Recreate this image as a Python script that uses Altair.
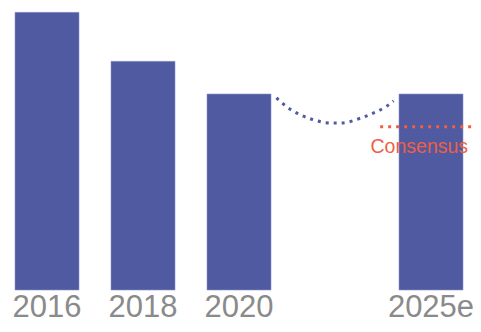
import altair as alt
import pandas as pd

# data
years = ["2016", "2018", "2020", "2025e"]
slots = [0, 1, 2, 4]
values = [8.5, 7.0, 6.0, 6.0]

curve_x = [2.39, 2.45, 2.51, 2.58, 2.66, 2.74, 2.82, 2.91, 2.99, 3.07, 3.15, 3.24, 3.31, 3.38, 3.45, 3.53, 3.61]
curve_y = [5.88, 5.73, 5.57, 5.45, 5.33, 5.24, 5.17, 5.11, 5.11, 5.11, 5.14, 5.24, 5.30, 5.39, 5.48, 5.60, 5.79]

consensus_value = 5.0
consensus_span = [3.47, 4.6]
consensus_label = "Consensus"

BLUE = "#4f5aa0"
RED = "#ee5f45"
GRAY = "#8a8a8a"

bars = pd.DataFrame({"year": years, "slot": slots, "value": values})
bars["x0"] = bars["slot"] - 1 / 3
bars["x1"] = bars["slot"] + 1 / 3
curve = pd.DataFrame({"x": curve_x, "y": curve_y})
cons = pd.DataFrame({"x": [consensus_span[0]], "x2": [consensus_span[1]], "y": [consensus_value]})
cons_text = pd.DataFrame({"x": [3.37], "y": [consensus_value], "t": [consensus_label]})

xs = alt.Scale(domain=[-0.40625, 4.4375], nice=False, zero=False)
ys = alt.Scale(domain=[-1.0408, 8.633], nice=False, zero=False)

bar_layer = alt.Chart(bars).mark_bar(color=BLUE, stroke="#8f96c8", strokeWidth=0.6).encode(
    x=alt.X("x0:Q", scale=xs, axis=None),
    x2="x1:Q",
    y=alt.Y("value:Q", scale=ys, axis=None),
    y2=alt.datum(0),
)

labels = alt.Chart(bars).mark_text(
    fontSize=31, font="Liberation Sans", color=GRAY, baseline="alphabetic", align="center"
).encode(
    x=alt.X("slot:Q", scale=xs, axis=None),
    y=alt.value(309),
    text="year:N",
)

curve_layer = alt.Chart(curve).mark_line(
    color=BLUE, strokeWidth=3, strokeDash=[3, 5], interpolate="basis"
).encode(
    x=alt.X("x:Q", scale=xs, axis=None),
    y=alt.Y("y:Q", scale=ys, axis=None),
)

cons_layer = alt.Chart(cons).mark_rule(
    color=RED, strokeWidth=3, strokeDash=[3, 5], clip=False
).encode(
    x=alt.X("x:Q", scale=xs, axis=None),
    x2="x2:Q",
    y=alt.Y("y:Q", scale=ys, axis=None),
)

cons_txt = alt.Chart(cons_text).mark_text(
    fontSize=19.5, font="Liberation Sans", color=RED, align="left", baseline="alphabetic", dy=26
).encode(
    x=alt.X("x:Q", scale=xs, axis=None),
    y=alt.Y("y:Q", scale=ys, axis=None),
    text="t:N",
)

chart = alt.layer(bar_layer, curve_layer, cons_layer, cons_txt, labels).properties(
    width=465, height=316, autosize=alt.AutoSizeParams(type="none"), padding=0
).configure_view(stroke=None)

chart.save("out.html", embed_options={"renderer": "svg", "actions": False})
